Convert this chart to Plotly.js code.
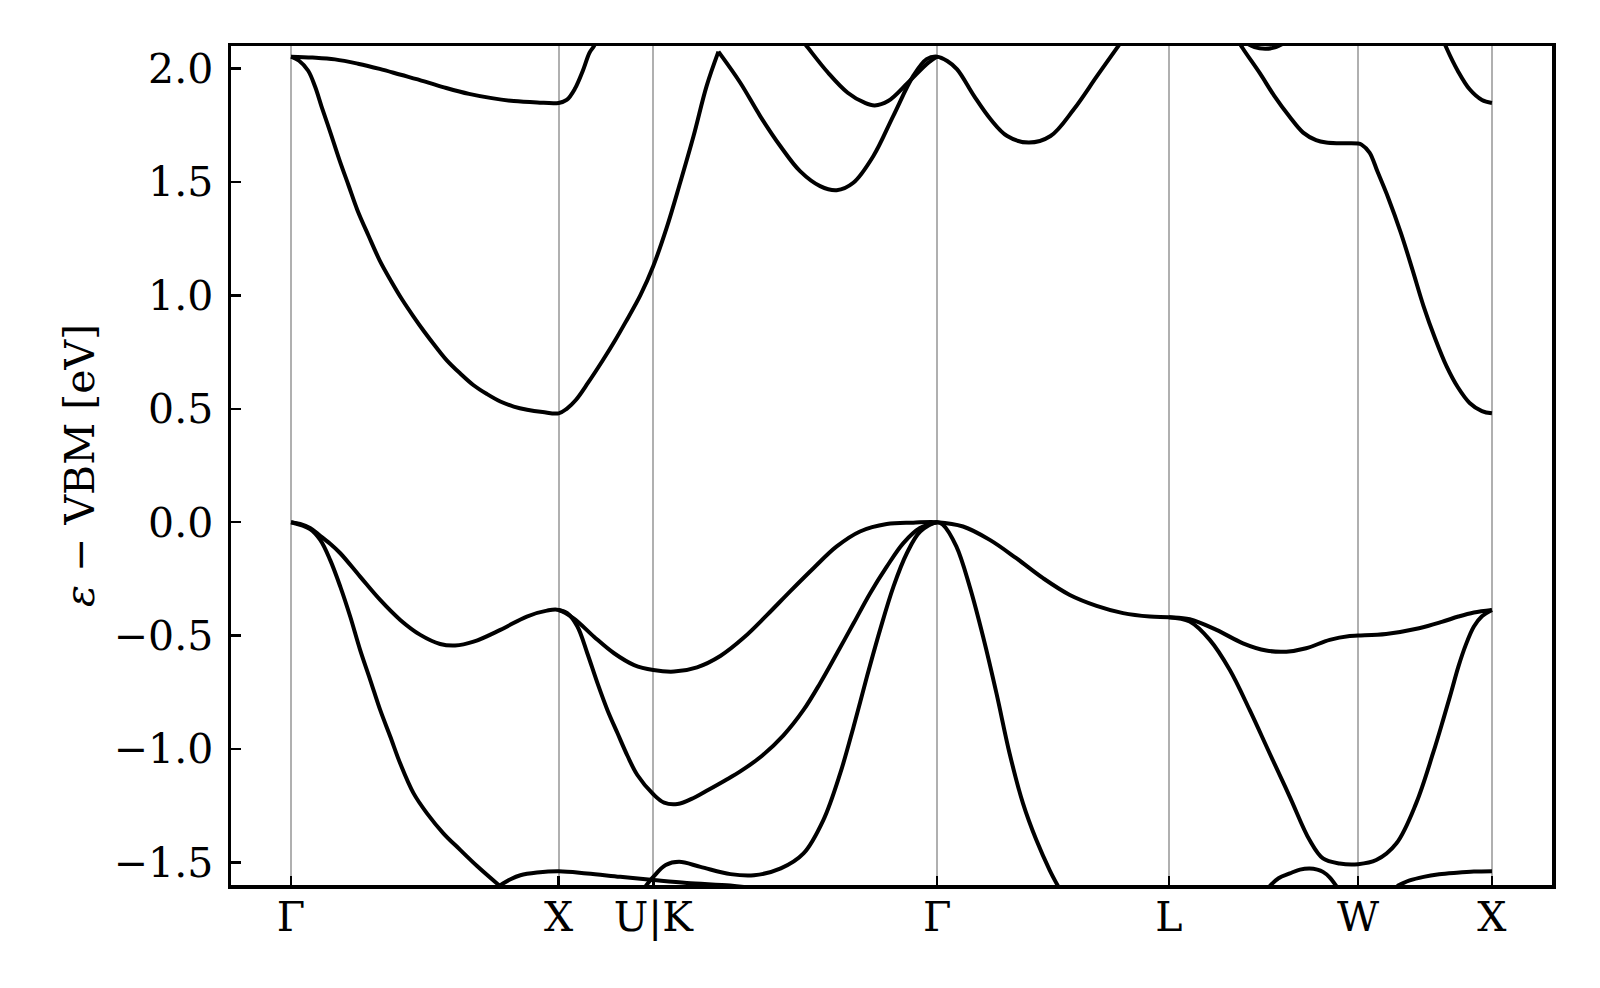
<!DOCTYPE html>
<html>
<head>
<meta charset="utf-8">
<script src="https://cdn.plot.ly/plotly-3.0.1.min.js"></script>
<style>html,body{margin:0;padding:0;background:#fff;}#chart{width:1600px;height:988px;}</style>
</head>
<body>
<div id="chart"></div>
<script>
// High-symmetry points along the path (units of 2π/a) and their labels
const kTicks = [0, 1, 1.3536, 2.4142, 3.2803, 3.9874, 4.4874];
const kLabels = ['Γ', 'X', 'U|K', 'Γ', 'L', 'W', 'X'];

// Top valence band
const vb3K = [0,0.034,0.071,0.109,0.146,0.184,0.258,0.333,0.408,0.483,0.557,0.613,0.682,0.782,0.881,0.956,1.0,
  1.056,1.132,1.207,1.282,1.3536,
  1.431,1.517,1.604,1.691,1.778,1.865,1.952,2.039,2.126,2.226,2.325,2.4142,
  2.511,2.611,2.71,2.81,2.91,3.01,3.109,3.209,3.2803,
  3.358,3.458,3.557,3.644,3.719,3.793,3.881,3.956,3.9874,
  4.092,4.215,4.30,4.362,4.42,4.4874];
const vb3E = [0,-0.008,-0.026,-0.06,-0.095,-0.137,-0.24,-0.343,-0.431,-0.497,-0.537,-0.544,-0.527,-0.475,-0.416,-0.39,-0.387,
  -0.424,-0.505,-0.578,-0.63,-0.652,
  -0.659,-0.64,-0.59,-0.51,-0.41,-0.305,-0.203,-0.107,-0.041,-0.008,-0.002,0,
  -0.019,-0.078,-0.159,-0.247,-0.321,-0.369,-0.401,-0.416,-0.419,
  -0.428,-0.475,-0.534,-0.566,-0.571,-0.556,-0.519,-0.502,-0.5,
  -0.493,-0.468,-0.44,-0.416,-0.398,-0.387];

// Second valence band (parts where it separates from the top band)
const vb2K = [1.0,1.032,1.07,1.107,1.145,1.182,1.22,1.257,1.294,1.3536,
  1.394,1.444,1.506,1.56,1.62,1.68,1.76,1.84,1.915,1.977,2.04,2.102,2.164,2.226,2.288,2.35,2.4142,
  null,
  3.2803,3.358,3.433,3.508,3.582,3.657,3.732,3.806,3.856,3.918,3.9874,
  4.055,4.13,4.204,4.267,4.305,4.335,4.362,4.39,4.42,4.45,4.4874];
const vb2E = [-0.387,-0.401,-0.46,-0.578,-0.71,-0.828,-0.931,-1.03,-1.115,-1.2,
  -1.237,-1.243,-1.215,-1.18,-1.14,-1.098,-1.03,-0.94,-0.828,-0.71,-0.578,-0.446,-0.313,-0.196,-0.092,-0.026,0,
  null,
  -0.419,-0.438,-0.519,-0.652,-0.828,-1.02,-1.211,-1.402,-1.483,-1.505,-1.508,
  -1.49,-1.417,-1.24,-1.02,-0.872,-0.75,-0.637,-0.54,-0.46,-0.415,-0.387];

// Third valence band and the deeper band crossing it near the bottom edge
const vb1K = [0,0.071,0.109,0.146,0.184,0.221,0.258,0.296,0.333,0.371,0.408,0.458,0.508,0.57,0.632,0.694,0.779,
  null,
  0.779,0.82,0.857,0.919,1.0,1.106,1.23,1.3536,1.479,1.641,1.70,
  null,
  1.325,1.3536,1.40,1.45,1.53,1.642,1.73,1.83,1.915,1.989,2.052,2.102,2.152,2.201,2.251,2.301,2.351,2.4142,
  2.436,2.486,2.536,2.586,2.636,2.685,2.735,2.785,2.835,2.866,
  null,
  3.657,3.69,3.732,3.77,3.806,3.835,3.856,3.88,3.906,
  null,
  4.133,4.18,4.232,4.29,4.356,4.42,4.4874];
const vb1E = [0,-0.03,-0.078,-0.166,-0.284,-0.416,-0.563,-0.696,-0.828,-0.946,-1.064,-1.196,-1.284,-1.373,-1.445,-1.515,-1.603,
  null,
  -1.603,-1.575,-1.557,-1.545,-1.539,-1.549,-1.564,-1.578,-1.591,-1.602,-1.61,
  null,
  -1.605,-1.564,-1.512,-1.498,-1.52,-1.552,-1.557,-1.527,-1.461,-1.314,-1.108,-0.902,-0.681,-0.475,-0.284,-0.137,-0.041,0,
  -0.011,-0.107,-0.284,-0.505,-0.755,-1.02,-1.24,-1.402,-1.535,-1.605,
  null,
  -1.605,-1.57,-1.549,-1.532,-1.527,-1.532,-1.542,-1.565,-1.605,
  null,
  -1.605,-1.58,-1.564,-1.553,-1.546,-1.541,-1.539];

// Lowest conduction band
const cb1K = [0,0.03,0.064,0.09,0.114,0.148,0.181,0.215,0.248,0.29,0.331,0.373,0.415,0.457,0.498,0.54,0.582,0.632,0.682,0.732,0.782,0.832,0.882,0.94,1.0,
  1.03,1.065,1.11,1.165,1.21,1.249,1.305,1.3536,
  1.404,1.454,1.504,1.553,1.597,
  null,
  1.597,1.678,1.753,1.828,1.902,1.977,2.039,2.101,2.176,2.25,2.325,2.375,2.4142,
  2.452,2.489,2.552,2.614,2.676,2.757,2.838,2.925,3.012,3.087,3.12,
  null,
  3.52,3.556,3.62,3.674,3.73,3.782,3.83,3.868,3.92,3.9874,
  4.0,4.03,4.06,4.10,4.147,4.19,4.232,4.275,4.318,4.36,4.404,4.45,4.4874];
const cb1E = [2.053,2.035,1.991,1.92,1.833,1.715,1.597,1.485,1.376,1.262,1.155,1.065,0.982,0.908,0.84,0.775,0.714,0.656,0.604,0.565,0.532,0.51,0.496,0.486,0.48,
  0.5,0.54,0.615,0.714,0.8,0.88,1.0,1.13,
  1.3,1.497,1.703,1.924,2.075,
  null,
  2.075,1.939,1.791,1.659,1.548,1.482,1.464,1.497,1.615,1.791,1.968,2.042,2.053,
  2.034,1.997,1.88,1.777,1.703,1.674,1.703,1.821,1.968,2.093,2.15,
  null,
  2.16,2.09,1.98,1.88,1.79,1.718,1.685,1.674,1.671,1.67,
  1.665,1.63,1.545,1.43,1.276,1.115,0.952,0.81,0.687,0.595,0.526,0.49,0.48];

// Second conduction band (visible parts)
const cb2K = [0,0.08,0.164,0.25,0.331,0.41,0.498,0.58,0.665,0.75,0.832,0.92,1.0,1.03,1.06,1.09,1.115,1.132,1.15,
  null,
  1.90,1.931,2.006,2.08,2.143,2.181,2.231,2.306,2.38,2.4142,
  null,
  3.56,3.6,3.64,3.68,3.72,
  null,
  4.28,4.318,4.36,4.404,4.45,4.4874];
const cb2E = [2.053,2.049,2.041,2.022,1.999,1.973,1.944,1.915,1.889,1.87,1.857,1.851,1.849,1.862,1.91,1.99,2.07,2.1,2.15,
  null,
  2.14,2.093,1.983,1.894,1.85,1.838,1.857,1.939,2.025,2.053,
  null,
  2.12,2.095,2.088,2.095,2.12,
  null,
  2.2,2.09,1.99,1.909,1.862,1.849];

const bands = [
  [vb1K, vb1E], [vb2K, vb2E], [vb3K, vb3E], [cb1K, cb1E], [cb2K, cb2E]
];

const traces = bands.map(([k, e]) => ({
  x: k, y: e, type: 'scatter', mode: 'lines',
  line: {color: '#000000', width: 4, shape: 'spline', smoothing: 1},
  connectgaps: false, hoverinfo: 'skip', showlegend: false
}));

const fontFam = '"DejaVu Serif", "Liberation Serif", serif';

const layout = {
  width: 1600, height: 988,
  margin: {l: 231, r: 48, t: 46, b: 103, pad: 0},
  paper_bgcolor: '#ffffff', plot_bgcolor: '#ffffff',
  showlegend: false,
  xaxis: {
    range: [-0.2244, 4.7118],
    tickmode: 'array', tickvals: kTicks, ticktext: kLabels,
    showgrid: true, gridcolor: '#b0b0b0', gridwidth: 2,
    zeroline: false,
    showline: true, linecolor: '#000', linewidth: 3.5, mirror: true,
    ticks: 'inside', ticklen: 9, tickwidth: 2.5, tickcolor: '#000',
    tickfont: {family: fontFam, size: 41, color: '#000'},
    ticklabelstandoff: -7,
    fixedrange: true
  },
  yaxis: {
    range: [-1.6, 2.1],
    tickmode: 'linear', tick0: 0, dtick: 0.5, tickformat: '.1f',
    showgrid: false, zeroline: false,
    showline: true, linecolor: '#000', linewidth: 3.5, mirror: true,
    ticks: 'inside', ticklen: 10, tickwidth: 2.5, tickcolor: '#000',
    tickfont: {family: fontFam, size: 41, color: '#000'},
    ticklabelstandoff: 6,
    title: {text: '<i>ε</i> − VBM [eV]', font: {family: fontFam, size: 41, color: '#000'}, standoff: 7},
    automargin: false,
    fixedrange: true
  }
};

Plotly.newPlot('chart', traces, layout, {displayModeBar: false, staticPlot: true});
</script>
</body>
</html>
